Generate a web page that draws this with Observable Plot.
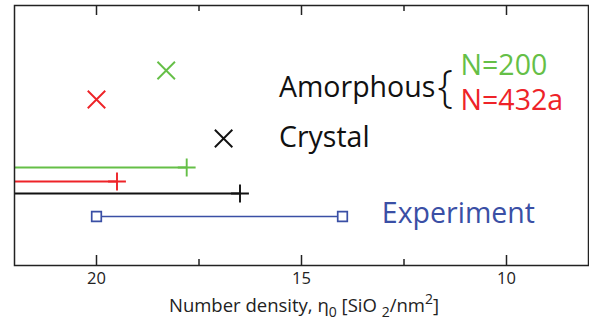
<!DOCTYPE html>
<html>
<head>
<meta charset="utf-8">
<script src="https://cdn.jsdelivr.net/npm/d3@7"></script>
<script src="https://cdn.jsdelivr.net/npm/@observablehq/plot@0.6"></script>
<style>
  html, body { margin: 0; padding: 0; background: #fff; }
  svg { display: block; }
</style>
</head>
<body>
<div id="chart"></div>
<script>
// ---- data ----
const series = ["N=200", "N=432a", "Crystal"];
const seriesColors = ["#65bf47", "#ee2328", "#111111"];
const crossValues = [18.3, 20.0, 16.9];      // "x" markers (number density)
const crossRows = [19.5, 16.6, 12.7];        // vertical row (arbitrary units)
const barEnds = [17.8, 19.5, 16.5];          // end of horizontal bars ("+")
const barRows = [9.8, 8.4, 7.2];
const expRange = [20, 14];                   // experiment range
const expRow = 4.9;
const expColor = "#3a4fa5";
const majorTicks = [20, 15, 10];
const minorTicks = [17.5, 12.5];

const labels = [
  {text: "Amorphous", x: 15.55, y: 17.8, color: "#111111"},
  {text: "Crystal", x: 15.55, y: 12.8, color: "#111111"},
  {text: "N=200", x: 11.12, y: 20.0, color: "#65bf47"},
  {text: "N=432a", x: 11.12, y: 16.5, color: "#ee2328"},
  {text: "Experiment", x: 13.04, y: 5.2, color: "#3a4fa5"}
];
const brace = {text: "{", x: 11.68, y: 17.8};

const xDomain = [22, 8];
const yDomain = [0, 26];

const crosses = series.map((s, i) => ({s, x: crossValues[i], y: crossRows[i], c: seriesColors[i]}));
const bars = series.map((s, i) => ({s, x: barEnds[i], y: barRows[i], c: seriesColors[i]}));
const exp = expRange.map(x => ({x, y: expRow}));

// tick lengths expressed in y units (10 px per unit: 260 px / 26)
const unit = (yDomain[1] - yDomain[0]) / 260;
const majorLen = 10 * unit, minorLen = 6 * unit;

const chart = Plot.plot({
  width: 589,
  height: 322,
  marginLeft: 14,
  marginRight: 1,
  marginTop: 5,
  marginBottom: 57,
  x: {domain: xDomain, axis: null},
  y: {domain: yDomain, axis: null},
  style: {fontFamily: "'Open Sans', sans-serif", background: "white", color: "#111"},
  marks: [
    // inward ticks, bottom and top
    Plot.ruleX(majorTicks, {x: d => d, y1: yDomain[0], y2: yDomain[0] + majorLen, stroke: "#222", strokeWidth: 1.5}),
    Plot.ruleX(majorTicks, {x: d => d, y1: yDomain[1], y2: yDomain[1] - majorLen, stroke: "#222", strokeWidth: 1.5}),
    Plot.ruleX(minorTicks, {x: d => d, y1: yDomain[0], y2: yDomain[0] + minorLen, stroke: "#222", strokeWidth: 1.5}),
    Plot.ruleX(minorTicks, {x: d => d, y1: yDomain[1], y2: yDomain[1] - minorLen, stroke: "#222", strokeWidth: 1.5}),
    Plot.text(majorTicks, {x: d => d, y: yDomain[0], dy: 13, text: d => String(d), fontSize: 16.5, fill: "#222"}),
    // horizontal bars from the left edge
    Plot.ruleY(bars, {y: "y", x1: xDomain[0], x2: "x", stroke: "c", strokeWidth: 1.9}),
    Plot.dot(bars, {x: "x", y: "y", symbol: "plus", r: 5.8, stroke: "c", strokeWidth: 1.9}),
    // experiment range
    Plot.ruleY([expRow], {y: d => d, x1: expRange[0], x2: expRange[1], stroke: expColor, strokeWidth: 1.6}),
    Plot.dot(exp, {x: "x", y: "y", symbol: "square", r: 5.4, fill: "white", stroke: expColor, strokeWidth: 1.7}),
    // cross markers
    Plot.dot(crosses, {x: "x", y: "y", symbol: "times", r: 8, stroke: "c", strokeWidth: 1.9}),
    // annotations
    Plot.text(labels, {x: "x", y: "y", text: "text", fill: "color", fontSize: 28.5, textAnchor: "start"}),
    Plot.text([brace], {x: "x", y: "y", text: "text", fontSize: 44, fontWeight: 300, fill: "#111", textAnchor: "start", dx: 0}),
    Plot.frame({stroke: "#222", strokeWidth: 1.5})
  ]
});

document.getElementById("chart").appendChild(chart);

// axis title with sub/superscripts
const svg = d3.select(chart);
const t = svg.append("text")
  .attr("x", 304).attr("y", 312)
  .attr("text-anchor", "middle")
  .attr("font-family", "'Open Sans', sans-serif")
  .attr("font-size", 18.5)
  .attr("fill", "#222");
t.append("tspan").text("Number density, η");
t.append("tspan").attr("dy", 5).attr("font-size", 14).text("0");
t.append("tspan").attr("dy", -5).text(" [SiO ");
t.append("tspan").attr("dy", 5).attr("font-size", 14).text("2");
t.append("tspan").attr("dy", -5).text("/nm");
t.append("tspan").attr("dy", -8).attr("font-size", 14).text("2");
t.append("tspan").attr("dy", 8).text("]");
</script>
</body>
</html>
